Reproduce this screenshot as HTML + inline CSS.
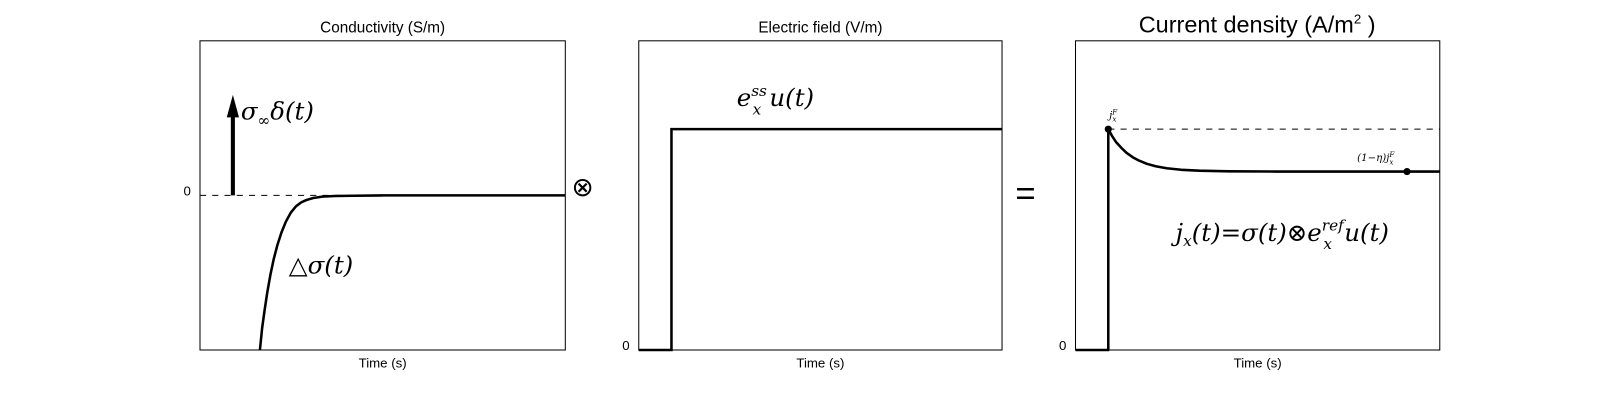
<!DOCTYPE html>
<html><head><meta charset="utf-8"><style>
html,body{margin:0;padding:0;background:#fff;width:1600px;height:400px;overflow:hidden;}
svg{display:block;}
svg text{font-family:"Liberation Sans","DejaVu Sans",sans-serif;}
.m{font-family:"DejaVu Serif","Liberation Serif",serif;font-style:italic;}
</style></head><body>
<svg id="c" width="1600" height="400" xmlns="http://www.w3.org/2000/svg">
<g id="g" transform="scale(1.0204)"></g>
</svg>
<script>
// panel 1: conductivity
const condT=[0.164,0.170,0.177,0.184,0.193,0.202,0.212,0.223,0.235,0.249,0.263,0.277,0.291,0.310,0.335,0.370,0.420,0.500,1.0];
const condV=[-1.0,-0.86,-0.74,-0.63,-0.51,-0.41,-0.32,-0.24,-0.17,-0.11,-0.07,-0.045,-0.03,-0.017,-0.008,-0.004,-0.002,0,0];
const deltaT=0.09, deltaV=0.65;
// panel 2: electric field
const fieldStepT=0.09, fieldLevel=1.0;
// panel 3: current density
const curT=[0.09,0.100,0.112,0.126,0.140,0.157,0.175,0.196,0.220,0.250,0.290,0.340,0.420,0.550,1.0];
const curV=[1.0,0.97,0.94,0.915,0.893,0.873,0.857,0.843,0.832,0.823,0.816,0.812,0.809,0.808,0.808];
const curDotT=0.91, curDotV=0.808;
const tickLabels=["0","0","0"];

const NS="http://www.w3.org/2000/svg";
const g=document.getElementById('g');
function mk(t,a,txt){const e=document.createElementNS(NS,t);for(const k in a)e.setAttribute(k,a[k]);if(txt!==undefined)e.textContent=txt;g.appendChild(e);return e;}
const panels=[{x0:196,x1:554,y0:-1,y1:1},{x0:626,x1:982,y0:0,y1:1.4},{x0:1054,x1:1411,y0:0,y1:1.4}];
const topY=40,bot=343;
function sx(p,t){return p.x0+t*(p.x1-p.x0);}
function sy(p,v){return bot-(v-p.y0)/(p.y1-p.y0)*(bot-topY);}
const titles=["Conductivity (S/m)","Electric field (V/m)"];
panels.forEach((p,i)=>{
  const r=mk('rect',{x:p.x0,y:topY,width:p.x1-p.x0,height:bot-topY,fill:'none',stroke:'#000','stroke-width':1});
  
  
  const xl=mk('text',{x:(p.x0+p.x1)/2,y:360,'font-size':13,'text-anchor':'middle'},'Time (s)');
  
  
  const tk=mk('text',{x:p.x0-9,y:sy(p,0)+0,'font-size':13,'text-anchor':'end'},tickLabels[i]);
  
  
  if(i<2){const tt=mk('text',{x:(p.x0+p.x1)/2,y:32,'font-size':15,'text-anchor':'middle'},titles[i]);
  
  }
});
const t3=mk('text',{x:1232,y:32,'font-size':23,'text-anchor':'middle'},'');
t3.innerHTML='Current density (A/m<tspan font-size="13" dy="-9">2</tspan><tspan dy="9"> )</tspan>';



let p=panels[0];
const z1=mk('line',{x1:p.x0,x2:p.x1,y1:sy(p,0),y2:sy(p,0),stroke:'#000','stroke-dasharray':'6,6'});


let d=condT.map((t,k)=>(k?'L':'M')+sx(p,t)+','+sy(p,condV[k])).join('');
const c1=mk('path',{d:d,fill:'none',stroke:'#000','stroke-width':2.5,'stroke-linejoin':'round'});


const ax=sx(p,deltaT);
const ar=mk('line',{x1:ax,x2:ax,y1:sy(p,0),y2:sy(p,deltaV)+20,stroke:'#000','stroke-width':4});


const ah=mk('polygon',{points:`${ax-6},${sy(p,deltaV)+22} ${ax+6},${sy(p,deltaV)+22} ${ax},${sy(p,deltaV)}`,fill:'#000'});


const l1=mk('text',{x:236,y:117,'font-size':24,class:'m'},'');
l1.innerHTML='σ<tspan font-size="15" dy="6">∞</tspan><tspan dy="-6">δ(t)</tspan>';


const l2=mk('text',{x:283,y:268,'font-size':24,class:'m'},'△σ(t)');


const o1=mk('text',{x:571,y:192,'font-size':26,'text-anchor':'middle'},'⊗');



p=panels[1];
d=`M${p.x0},${sy(p,0)}L${sx(p,fieldStepT)},${sy(p,0)}L${sx(p,fieldStepT)},${sy(p,fieldLevel)}L${p.x1},${sy(p,fieldLevel)}`;
const c2=mk('path',{d:d,fill:'none',stroke:'#000','stroke-width':2.5});


const l3=mk('text',{x:722,y:104,'font-size':24,class:'m'},'');
l3.innerHTML='e<tspan font-size="15" dy="-10">ss</tspan><tspan font-size="15" dx="-14" dy="18">x</tspan><tspan dx="8" dy="-8">u(t)</tspan>';


const eq=mk('text',{x:1005,y:201,'font-size':34,'text-anchor':'middle'},'=');



p=panels[2];
const dl=mk('line',{x1:sx(p,curT[0]),x2:p.x1,y1:sy(p,curV[0]),y2:sy(p,curV[0]),stroke:'#000','stroke-dasharray':'6,6'});


d=`M${p.x0},${sy(p,0)}L${sx(p,curT[0])},${sy(p,0)}`+curT.map((t,k)=>'L'+sx(p,t)+','+sy(p,curV[k])).join('');
const c3=mk('path',{d:d,fill:'none',stroke:'#000','stroke-width':2.5,'stroke-linejoin':'round'});


[[curT[0],curV[0]],[curDotT,curDotV]].forEach((q,k)=>{
  const dt=mk('circle',{cx:sx(p,q[0]),cy:sy(p,q[1]),r:3.5,fill:'#000'});
  
  
});
const l4=mk('text',{x:1087,y:116,'font-size':10,class:'m'},'');
l4.innerHTML='j<tspan font-size="7" dy="3">x</tspan><tspan font-size="7" dx="-4" dy="-7">F</tspan>';


const l5=mk('text',{x:1330,y:158,'font-size':10,class:'m'},'');
l5.innerHTML='(1−η)j<tspan font-size="7" dy="3">x</tspan><tspan font-size="7" dx="-4" dy="-7">F</tspan>';


const l6=mk('text',{x:1152,y:236,'font-size':24,class:'m'},'');
l6.innerHTML='j<tspan font-size="15" dy="5">x</tspan><tspan dy="-5">(t)=σ(t)⊗e</tspan><tspan font-size="15" dy="-10">ref</tspan><tspan font-size="15" dx="-20" dy="18">x</tspan><tspan dx="12" dy="-8">u(t)</tspan>';


</script>
</body></html>
